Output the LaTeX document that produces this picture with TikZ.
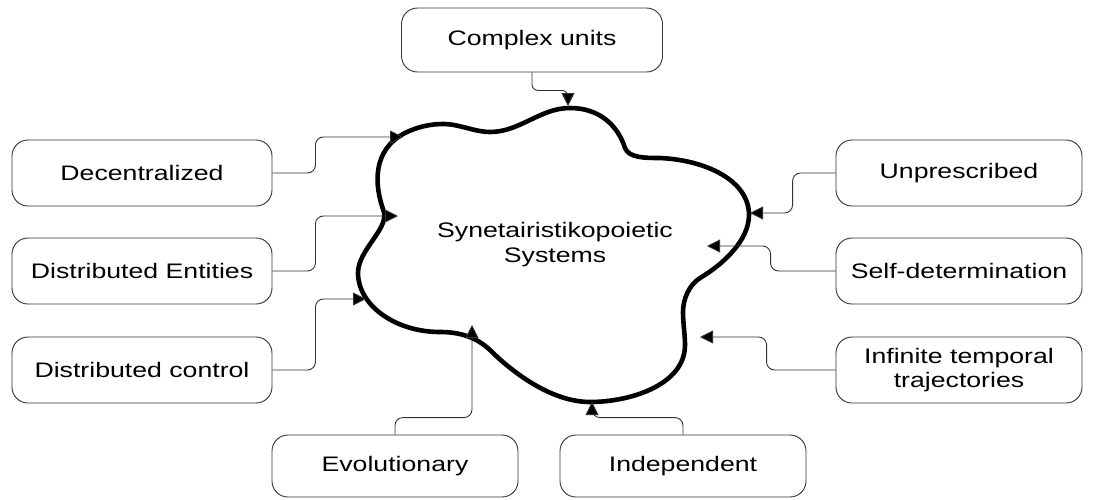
\documentclass[tikz,border=0pt]{standalone}
\usepackage{fontspec}
\setmainfont{Liberation Sans}[FakeStretch=1.27]
\usetikzlibrary{arrows.meta}
\begin{document}
\begin{tikzpicture}[x=1pt,y=-1pt,
  box/.style={draw=black!80, line width=0.9pt, rounded corners=16pt,
    minimum width=260pt, minimum height=66pt, inner sep=0pt,
    font=\fontsize{21}{24}\selectfont, align=center},
  rbox/.style={box, minimum width=246pt},
  bbox/.style={box, minimum width=246pt, minimum height=62pt},
  conn/.style={draw=black!80, line width=0.9pt, rounded corners=8pt,
    -{Triangle[length=13pt,width=13pt,fill=black]}},
  cloudline/.style={draw=black, line width=4.6pt, line join=round}
]
\useasboundingbox (0,0) rectangle (1093,499);

% cloud
\draw[cloudline] (384,212)
  .. controls (374,185) and (372,150) .. (405,133)
  .. controls (417,127) and (430,124) .. (443,124)
  .. controls (460,124) and (474,132) .. (490,132)
  .. controls (520,132) and (540,108) .. (570,108)
  .. controls (600,108) and (618,126) .. (625,148)
  .. controls (629,158) and (645,158) .. (660,158)
  .. controls (705,160) and (749,180) .. (749,215)
  .. controls (749,241) and (722,265) .. (700,278)
  .. controls (689,285) and (683,299) .. (683,312)
  .. controls (683,323) and (685,334) .. (685,345)
  .. controls (685,385) and (630,402) .. (590,402)
  .. controls (550,402) and (510,370) .. (490,350)
  .. controls (475,336) and (458,332) .. (440,332)
  .. controls (395,332) and (358,305) .. (358,273)
  .. controls (358,250) and (388,230) .. cycle;
\node[font=\fontsize{21}{25}\selectfont, align=center] (sys) at (555,245) {Synetairistikopoietic\\Systems};

% boxes
\node[box, minimum width=261pt, minimum height=64pt] (cu) at (532,40) {Complex units};
\node[box] (dec) at (142,173) {Decentralized};
\node[box] (de) at (142,271) {Distributed Entities};
\node[box] (dc) at (142,370) {Distributed control};
\node[rbox] (un) at (959,173) {Unprescribed};
\node[rbox] (sd) at (959,271) {Self-determination};
\node[rbox] (inf) at (959,370) {Infinite temporal\\trajectories};
\node[bbox] (ev) at (395,466) {Evolutionary};
\node[bbox] (ind) at (683,466) {Independent};

% arrow tips
\coordinate (tCu) at (568,106);
\coordinate (tDec) at (403,137);
\coordinate (tDe) at (398,216);
\coordinate (tDc) at (366,299);
\coordinate (tUn) at (750,213);
\coordinate (tSd) at (707,246);
\coordinate (tInf) at (700,337);
\coordinate (tEv) at (472,325);
\coordinate (tInd) at (592,402);

% connectors
\draw[conn, rounded corners=6pt] (cu.south) -- ++(0,18) -| (tCu);
\draw[conn] (dec.east) -- ++(43,0) |- (tDec);
\draw[conn] (de.east) -- ++(43,0) |- (tDe);
\draw[conn] (dc.east) -- ++(43,0) |- (tDc);
\draw[conn] (un.west) -- ++(-43,0) |- (tUn);
\draw[conn] (sd.west) -- ++(-65,0) |- (tSd);
\draw[conn] (inf.west) -- ++(-69,0) |- (tInf);
\draw[conn] (ev.north) -- ++(0,-17) -| (tEv);
\draw[conn] (ind.north) -- ++(0,-17) -| (tInd);
\end{tikzpicture}
\end{document}
